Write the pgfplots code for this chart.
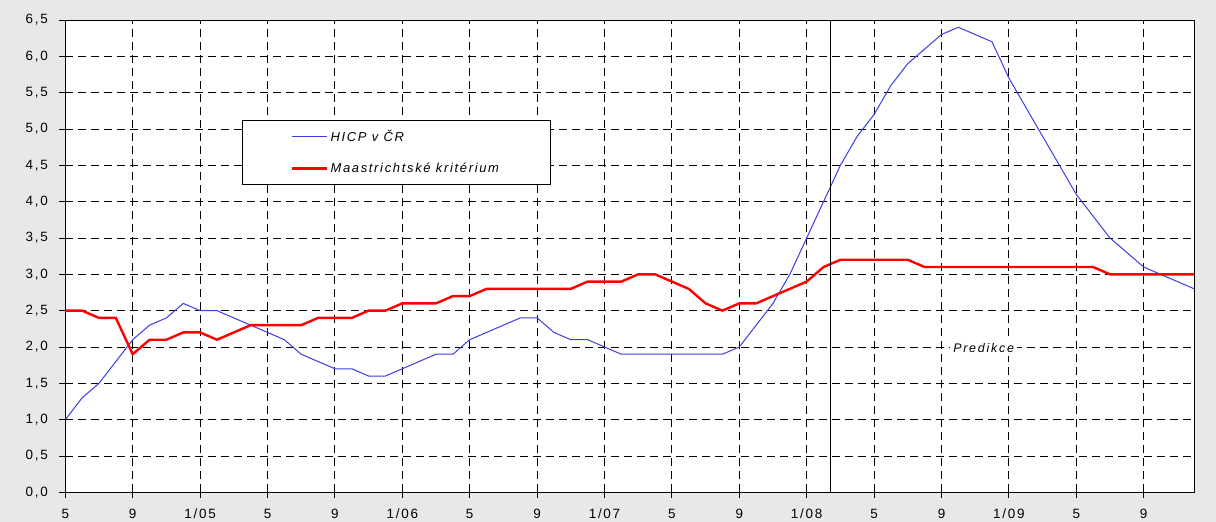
\documentclass[border=0pt]{standalone}
\usepackage{fontspec}
\setmainfont{Liberation Sans}
\usepackage{pgfplots}
\pgfplotsset{compat=1.18}
\definecolor{hicp}{RGB}{60,60,230}
\definecolor{bg}{RGB}{232,232,232}
\begin{document}
\begin{tikzpicture}
\fill[bg] (0,0) rectangle (1216bp,522bp);
\useasboundingbox (0,0) rectangle (1216bp,522bp);
\begin{axis}[
  at={(65.3bp,29.7bp)}, anchor=south west,
  scale only axis, width=1129bp, height=472.3bp,
  xmin=0, xmax=67, ymin=0, ymax=6.5,
  axis background/.style={fill=white},
  xtick={0,4,8,12,16,20,24,28,32,36,40,44,48,52,56,60,64},
  xticklabels={5,9,1/05,5,9,1/06,5,9,1/07,5,9,1/08,5,9,1/09,5,9},
  ytick={0,0.5,1,1.5,2,2.5,3,3.5,4,4.5,5,5.5,6,6.5},
  /pgf/number format/assume math mode=true,
  yticklabel style={/pgf/number format/fixed, /pgf/number format/fixed zerofill,
    /pgf/number format/precision=1, /pgf/number format/use comma},
  yticklabel shift=8bp,
  xticklabel shift=7bp,
  ticklabel style={font=\fontsize{13.5}{14}\selectfont\addfontfeature{LetterSpace=13}},
  xtick pos=left, ytick pos=left,
  tick align=outside, major tick length=6bp,
  tick style={black, line width=0.8bp},
  axis line style={black, line width=0.8bp},
  grid=major,
  major grid style={black, line width=0.8bp, dash pattern=on 8bp off 5bp},
  legend style={at={(rel axis cs:0.1565,0.788)}, anchor=north west, draw=black, fill=white,
    inner xsep=49bp, inner ysep=8bp, row sep=16bp,
    font=\fontsize{13}{14}\selectfont\itshape\addfontfeature{LetterSpace=13}},
  legend cell align=left,
  legend image code/.code={\draw[#1] (0bp,0bp) -- (35bp,0bp);},
]
\addplot[hicp, line width=1bp] coordinates {
(0,1.0)(1,1.3)(2,1.5)(3,1.8)(4,2.1)(5,2.3)(6,2.4)(7,2.6)(8,2.5)(9,2.5)
(10,2.4)(11,2.3)(12,2.2)(13,2.1)(14,1.9)(15,1.8)(16,1.7)(17,1.7)(18,1.6)(19,1.6)
(20,1.7)(21,1.8)(22,1.9)(23,1.9)(24,2.1)(25,2.2)(26,2.3)(27,2.4)(28,2.4)(29,2.2)
(30,2.1)(31,2.1)(32,2.0)(33,1.9)(34,1.9)(35,1.9)(36,1.9)(37,1.9)(38,1.9)(39,1.9)
(40,2.0)(41,2.3)(42,2.6)(43,3.0)(44,3.5)(45,4.0)(46,4.5)(47,4.9)(48,5.2)(49,5.6)
(50,5.9)(51,6.1)(52,6.3)(53,6.4)(54,6.3)(55,6.2)(56,5.7)(57,5.3)(58,4.9)(59,4.5)
(60,4.1)(61,3.8)(62,3.5)(63,3.3)(64,3.1)(65,3.0)(66,2.9)(67,2.8)};
\addlegendentry{HICP v ČR}
\addplot[red, line width=2.4bp] coordinates {
(0,2.5)(1,2.5)(2,2.4)(3,2.4)(4,1.9)(5,2.1)(6,2.1)(7,2.2)(8,2.2)(9,2.1)
(10,2.2)(11,2.3)(12,2.3)(13,2.3)(14,2.3)(15,2.4)(16,2.4)(17,2.4)(18,2.5)(19,2.5)
(20,2.6)(21,2.6)(22,2.6)(23,2.7)(24,2.7)(25,2.8)(26,2.8)(27,2.8)(28,2.8)(29,2.8)
(30,2.8)(31,2.9)(32,2.9)(33,2.9)(34,3.0)(35,3.0)(36,2.9)(37,2.8)(38,2.6)(39,2.5)
(40,2.6)(41,2.6)(42,2.7)(43,2.8)(44,2.9)(45,3.1)(46,3.2)(47,3.2)(48,3.2)(49,3.2)
(50,3.2)(51,3.1)(52,3.1)(53,3.1)(54,3.1)(55,3.1)(56,3.1)(57,3.1)(58,3.1)(59,3.1)
(60,3.1)(61,3.1)(62,3.0)(63,3.0)(64,3.0)(65,3.0)(66,3.0)(67,3.0)};
\addlegendentry{Maastrichtské kritérium}
\addplot[black, line width=1bp, forget plot] coordinates {(45.4,0) (45.4,6.5)};
\node[font=\fontsize{12.5}{13}\selectfont\itshape\addfontfeature{LetterSpace=14}, fill=white, inner sep=3bp] at (axis cs:54.5,1.98) {Predikce};
\end{axis}
\end{tikzpicture}
\end{document}
